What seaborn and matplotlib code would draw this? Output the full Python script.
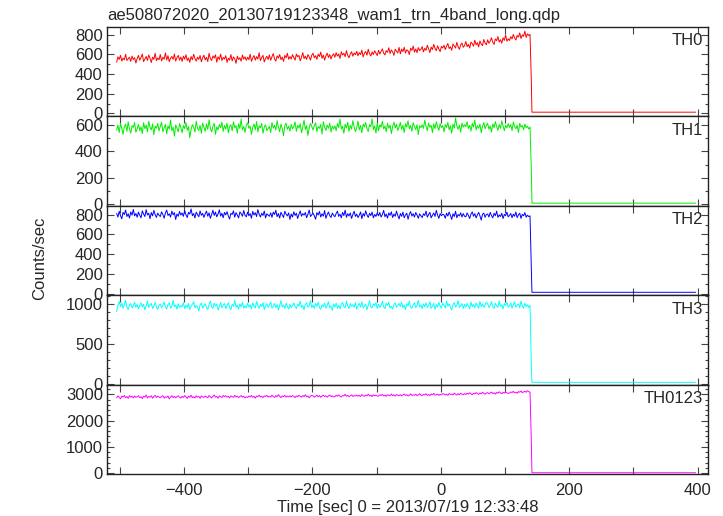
import numpy as np
import matplotlib
matplotlib.use("Agg")
import matplotlib.pyplot as plt
from matplotlib.ticker import MultipleLocator, FuncFormatter
import seaborn as sns

sns.set_style("ticks")
plt.rcParams['font.family'] = ['Liberation Sans', 'DejaVu Sans']

# 2 s bins starting at -505 sec
t_start = -505
bin_width = 2

th0 = [520, 575, 548, 590, 531, 562, 544, 601, 538, 555, 572, 529, 583, 547, 566, 512, 558,
       589, 541, 567, 603, 526, 552, 579, 538, 594, 560, 517, 571, 549, 612, 536, 563, 545,
       598, 533, 570, 551, 615, 542, 586, 526, 561, 578, 549, 604, 532, 567, 590, 541, 573,
       528, 582, 551, 596, 537, 563, 519, 578, 545, 601, 558, 531, 572, 549, 588, 524, 565,
       592, 543, 570, 527, 611, 556, 539, 584, 562, 596, 521, 575, 548, 603, 537, 569, 552,
       587, 518, 561, 542, 598, 533, 574, 556, 509, 582, 547, 566, 530, 593, 551, 575, 539,
       571, 546, 602, 529, 563, 588, 541, 577, 552, 617, 536, 568, 590, 523, 559, 581, 547,
       594, 540, 576, 608, 553, 531, 585, 562, 599, 546, 573, 528, 589, 565, 611, 550, 578,
       552, 597, 567, 541, 603, 576, 589, 534, 571, 618, 557, 583, 549, 598, 574, 541, 592,
       611, 565, 587, 549, 602, 578, 623, 560, 593, 541, 584, 612, 568, 598, 553, 589, 606,
       571, 617, 582, 604, 559, 626, 594, 611, 576, 638, 589, 565, 603, 627, 581, 614, 596,
       632, 585, 618, 597, 643, 574, 611, 629, 591, 652, 606, 583, 624, 599, 637, 612, 588,
       641, 603, 629, 656, 612, 594, 638, 621, 667, 608, 645, 626, 589, 652, 633, 614, 671,
       605, 654, 628, 672, 613, 647, 636, 598, 663, 641, 684, 622, 655, 617, 669, 638, 651,
       679, 626, 662, 641, 693, 655, 618, 674, 649, 702, 661, 638, 687, 653, 628, 681, 665,
       692, 648, 683, 711, 659, 677, 641, 705, 686, 664, 722, 679, 651, 698, 715, 672, 689,
       731, 678, 702, 664, 725, 709, 683, 744, 697, 718, 676, 736, 704, 689, 752, 715, 698,
       748, 712, 736, 769, 724, 701, 757, 739, 781, 726, 749, 714, 768, 742, 796, 733, 758,
       742, 781, 757, 803, 768, 746, 792, 775, 818, 761, 799, 784, 836, 772, 809, 791, 803]
th1 = [560, 598, 542, 611, 575, 529, 588, 606, 551, 623, 569, 537, 594, 581, 618, 545, 572,
       603, 557, 586, 534, 617, 571, 599, 548, 628, 583, 562, 607, 526, 591, 574, 612, 555,
       587, 621, 549, 576, 604, 532, 593, 568, 637, 557, 584, 515, 599, 576, 548, 610, 581,
       541, 595, 572, 618, 559, 588, 503, 567, 602, 584, 546, 629, 575, 558, 597, 537, 614,
       583, 552, 607, 566, 639, 574, 547, 591, 612, 529, 586, 563, 604, 578, 621, 551, 596,
       568, 613, 541, 587, 602, 556, 624, 579, 595, 538, 609, 572, 645, 562, 588, 543, 599,
       616, 574, 592, 528, 581, 607, 563, 626, 548, 593, 577, 611, 536, 584, 602, 557, 571,
       589, 542, 618, 575, 597, 561, 632, 584, 549, 606, 573, 518, 596, 613, 567, 590, 553,
       604, 571, 587, 623, 552, 598, 576, 609, 541, 583, 637, 565, 594, 521, 579, 612, 586,
       562, 595, 617, 549, 588, 574, 603, 531, 625, 582, 558, 599, 574, 614, 546, 591, 568,
       593, 557, 611, 581, 644, 569, 590, 537, 605, 576, 620, 552, 597, 568, 632, 585, 549,
       578, 629, 562, 596, 541, 607, 585, 618, 573, 551, 602, 587, 646, 564, 593, 538, 612,
       556, 601, 583, 627, 569, 592, 548, 613, 575, 598, 534, 589, 621, 577, 605, 558, 584,
       619, 566, 598, 542, 608, 584, 631, 571, 596, 553, 617, 589, 564, 602, 527, 594, 579,
       601, 574, 636, 588, 557, 613, 582, 597, 542, 608, 571, 624, 586, 559, 610, 579, 595,
       548, 603, 581, 619, 563, 594, 538, 606, 576, 652, 591, 567, 599, 545, 614, 583, 602,
       587, 624, 572, 598, 553, 611, 584, 637, 562, 595, 574, 606, 541, 589, 618, 571, 596,
       612, 567, 593, 546, 608, 579, 625, 588, 559, 603, 574, 631, 592, 556, 598, 577, 610,
       581, 604, 557, 622, 589, 571, 598, 543, 612, 584, 596, 563, 607, 578, 591, 569, 585]
th2 = [812, 776, 834, 791, 758, 823, 802, 847, 781, 809, 766, 828, 795, 853, 788, 812, 774,
       826, 793, 768, 839, 806, 781, 851, 797, 814, 759, 822, 788, 843, 801, 772, 816, 795,
       781, 829, 803, 764, 818, 847, 792, 809, 775, 836, 798, 821, 752, 807, 784, 833, 796,
       817, 783, 842, 799, 771, 824, 806, 858, 789, 812, 767, 826, 801, 779, 838, 794, 813,
       772, 809, 836, 784, 819, 763, 801, 845, 792, 827, 778, 806, 849, 785, 814, 769, 823,
       798, 831, 787, 756, 814, 802, 839, 775, 821, 796, 767, 828, 809, 784, 842, 793, 779,
       826, 789, 811, 764, 833, 797, 820, 781, 851, 805, 776, 814, 792, 837, 768, 809, 795,
       784, 819, 773, 826, 801, 845, 779, 812, 766, 824, 798, 771, 835, 806, 787, 818, 752,
       807, 776, 829, 792, 815, 761, 803, 838, 784, 811, 796, 822, 769, 804, 847, 781, 799,
       815, 788, 754, 821, 797, 833, 776, 809, 785, 842, 763, 801, 827, 790, 772, 816, 794,
       779, 812, 836, 783, 805, 768, 823, 791, 846, 774, 809, 787, 818, 762, 801, 835, 782,
       806, 771, 794, 828, 759, 812, 785, 839, 797, 772, 814, 791, 826, 768, 803, 782, 817,
       788, 823, 776, 801, 844, 779, 807, 765, 818, 793, 829, 771, 806, 784, 836, 792, 757,
       812, 783, 826, 769, 798, 815, 754, 804, 831, 786, 810, 775, 822, 797, 763, 808, 789,
       771, 809, 792, 836, 775, 801, 823, 768, 794, 817, 782, 843, 796, 763, 811, 789, 805,
       798, 764, 815, 786, 827, 793, 752, 809, 781, 834, 769, 802, 787, 819, 776, 811, 784,
       779, 818, 793, 761, 806, 828, 784, 811, 767, 799, 823, 788, 745, 805, 816, 774, 802,
       807, 776, 823, 791, 768, 814, 789, 836, 772, 798, 781, 815, 761, 803, 789, 826, 778,
       793, 812, 769, 806, 784, 827, 771, 798, 815, 762, 804, 789, 821, 774, 795, 781, 788]
th3 = [905, 986, 1032, 967, 1011, 948, 992, 1045, 963, 931, 988, 1006, 952, 979, 1024, 958, 997,
       941, 983, 1015, 962, 997, 927, 974, 1038, 956, 991, 1008, 944, 976, 1021, 959, 934, 985,
       1002, 953, 979, 1026, 961, 938, 994, 1014, 949, 972, 1047, 966, 989, 935, 1003, 957, 981,
       967, 1018, 942, 986, 955, 1009, 931, 973, 996, 1029, 951, 984, 962, 913, 990, 1012, 947,
       978, 1004, 958, 934, 991, 1036, 965, 947, 1013, 976, 998, 924, 969, 1021, 952, 987, 1006,
       943, 983, 1017, 961, 929, 995, 974, 1049, 958, 986, 937, 1002, 966, 1023, 948, 979, 954,
       1009, 962, 991, 938, 1015, 973, 951, 1032, 984, 946, 999, 967, 1018, 931, 977, 1005, 958,
       985, 1027, 949, 972, 1008, 955, 993, 926, 981, 1041, 963, 988, 944, 1012, 970, 937, 996,
       952, 979, 1014, 967, 943, 1001, 972, 1037, 956, 984, 929, 998, 1016, 961, 975, 1044, 953,
       988, 946, 1007, 971, 1024, 958, 935, 991, 966, 1012, 948, 982, 1029, 957, 976, 921, 1003,
       962, 1011, 947, 985, 939, 997, 1021, 969, 953, 1035, 978, 944, 1006, 972, 991, 958, 1017,
       935, 983, 1009, 961, 1028, 950, 974, 996, 929, 987, 1042, 965, 952, 1003, 977, 1019, 944,
       998, 957, 981, 1034, 966, 942, 1010, 983, 1025, 949, 972, 937, 993, 1014, 958, 981, 1007,
       969, 1023, 952, 986, 931, 1004, 975, 1038, 961, 946, 992, 1017, 955, 979, 1046, 963, 988,
       943, 1001, 968, 1015, 957, 982, 1029, 946, 971, 1008, 934, 994, 962, 1021, 976, 949, 1012,
       985, 951, 1036, 972, 1003, 958, 926, 991, 1018, 963, 984, 1043, 957, 979, 1006, 944, 997,
       961, 1009, 975, 940, 1027, 964, 996, 952, 1013, 981, 948, 1033, 969, 1002, 956, 987, 1024,
       1004, 957, 983, 1031, 966, 945, 1011, 978, 959, 1040, 971, 993, 938, 1007, 984, 1022, 962,
       976, 1015, 948, 992, 1026, 961, 985, 1003, 953, 1036, 974, 948, 1010, 969, 991, 957, 983]
th0123 = [2868, 2947, 2891, 2832, 2935, 2903, 2961, 2874, 2922, 2850, 2958, 2896, 2931, 2867, 2940, 2889, 2918,
          2952, 2879, 2911, 2840, 2934, 2898, 2976, 2866, 2925, 2893, 2947, 2858, 2919, 2962, 2884, 2937, 2901,
          2873, 2928, 2955, 2861, 2914, 2889, 2943, 2826, 2907, 2951, 2880, 2932, 2869, 2918, 2946, 2894, 2862,
          2927, 2884, 2958, 2903, 2847, 2936, 2891, 2970, 2878, 2915, 2862, 2949, 2897, 2925, 2853, 2941, 2908,
          2886, 2939, 2904, 2872, 2957, 2915, 2865, 2931, 2979, 2898, 2926, 2855, 2944, 2910, 2883, 2962, 2917,
          2951, 2893, 2928, 2870, 2946, 2912, 2889, 2965, 2904, 2937, 2875, 2921, 2958, 2896, 2933, 2868, 2914,
          2884, 2942, 2907, 2961, 2891, 2927, 2856, 2938, 2915, 2973, 2899, 2932, 2881, 2945, 2919, 2963, 2902,
          2936, 2898, 2972, 2921, 2887, 2954, 2910, 2995, 2929, 2878, 2943, 2917, 2965, 2896, 2938, 2904, 2951,
          2903, 2958, 2926, 2881, 2945, 2913, 2969, 2932, 2894, 2957, 2920, 2987, 2908, 2941, 2873, 2936, 2962,
          2947, 2897, 2931, 2974, 2912, 2956, 2888, 2938, 2969, 2921, 2951, 2895, 2942, 2979, 2917, 2948, 2905,
          2918, 2967, 2932, 2987, 2925, 2903, 2958, 2941, 3008, 2929, 2962, 2914, 2947, 2981, 2923, 2955, 2938,
          2972, 2931, 2964, 2917, 2993, 2951, 2926, 2978, 2944, 3012, 2938, 2967, 2919, 2983, 2949, 2971, 2936,
          2938, 2986, 2957, 3004, 2941, 2973, 2926, 2991, 2962, 2948, 3017, 2954, 2982, 2937, 2996, 2969, 2951,
          2991, 2947, 2983, 3015, 2962, 2993, 2940, 2976, 3021, 2958, 2989, 2967, 3008, 2951, 2985, 3032, 2970,
          2958, 3004, 2981, 3025, 2967, 2997, 2953, 3019, 2988, 3041, 2972, 2995, 3013, 2966, 3007, 2984, 3029,
          3021, 2979, 3008, 2963, 3035, 2996, 3017, 2982, 3052, 3003, 2976, 3029, 2991, 3044, 3012, 2987, 3033,
          2998, 3043, 3011, 3064, 3026, 2989, 3047, 3018, 3071, 3034, 3002, 3056, 3021, 3085, 3038, 3009, 3052,
          3067, 3025, 3058, 3091, 3032, 3064, 3014, 3077, 3046, 3102, 3053, 3029, 3081, 3049, 3095, 3061, 3038,
          3052, 3096, 3071, 3118, 3063, 3089, 3045, 3107, 3082, 3131, 3068, 3097, 3123, 3084, 3140, 3102, 3091]

# after the drop: one partial bin, then background until the end
t_after = [141, 142, 397]
after = {
    "TH0": [350, 12, 12],
    "TH1": [270, 10, 10],
    "TH2": [290, 15, 15],
    "TH3": [260, 20, 20],
    "TH0123": [1250, 15, 15],
}

bands = ["TH0", "TH1", "TH2", "TH3", "TH0123"]
series = [th0, th1, th2, th3, th0123]
colors = ["#ff0000", "#00ee00", "#0000ff", "#00ffff", "#ff00ff"]
ylims = [(-30, 880), (-10, 665), (-15, 890), (-10, 1110), (-40, 3370)]
ymajor = [200, 200, 200, 500, 1000]
yminor = [100, 100, 100, 100, 200]

fig, axes = plt.subplots(5, 1, sharex=True, figsize=(7.23, 5.16), dpi=100)
fig.subplots_adjust(left=0.148, right=0.979, top=0.948, bottom=0.081, hspace=0)

for ax, name, vals, col, yl, ymj, ymn in zip(axes, bands, series, colors, ylims, ymajor, yminor):
    t = t_start + bin_width * np.arange(len(vals))
    x = list(t) + t_after
    y = list(vals) + after[name]
    sns.lineplot(x=x, y=y, ax=ax, color=col, linewidth=0.7, estimator=None, sort=False)
    ax.set_ylim(*yl)
    ax.set_xlim(-520, 416)
    ax.yaxis.set_major_locator(MultipleLocator(ymj))
    ax.yaxis.set_minor_locator(MultipleLocator(ymn))
    ax.xaxis.set_major_locator(MultipleLocator(100))
    ax.xaxis.set_major_formatter(FuncFormatter(lambda v, p: f"{int(v)}".replace("-", "\u2212") if int(round(v)) % 200 == 0 else ""))
    ax.tick_params(which="both", direction="in", top=True, right=True, color="#444444", labelsize=12, width=0.8)
    ax.tick_params(which="major", length=5)
    ax.tick_params(which="minor", length=2.5)
    ax.tick_params(axis="x", pad=6)
    ax.tick_params(axis="y", pad=3)
    for s in ax.spines.values():
        s.set_linewidth(1.0)
        s.set_color("#222222")
    ax.set_ylabel("")
    ax.text(0.992, 0.93, name, transform=ax.transAxes, ha="right", va="top", fontsize=12)

axes[0].set_title("ae508072020_20130719123348_wam1_trn_4band_long.qdp", loc="left", fontsize=12, pad=5)
axes[-1].set_xlabel("Time [sec] 0 = 2013/07/19 12:33:48", fontsize=12, labelpad=2)
fig.text(0.055, 0.5, "Counts/sec", rotation=90, ha="center", va="center", fontsize=12)

fig.savefig("out.png", dpi=100)
